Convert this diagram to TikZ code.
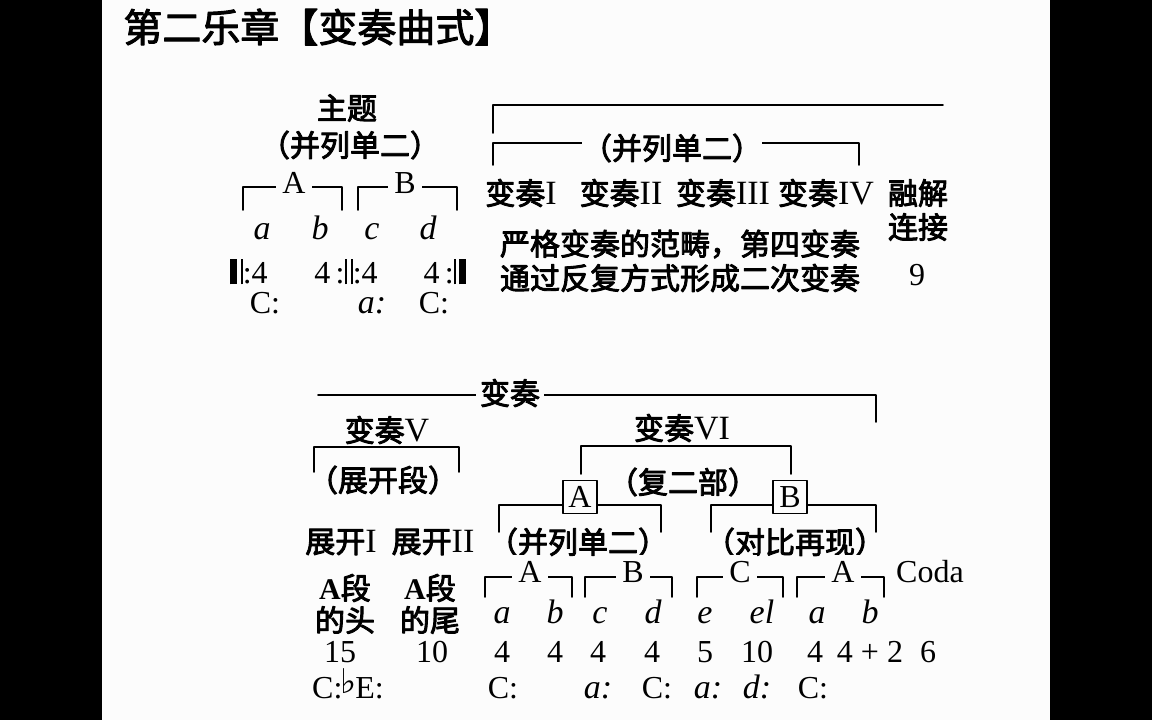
\documentclass[tikz,border=0pt]{standalone}
\usepackage{fontspec}
\setmainfont{Liberation Serif}
\newfontfamily\cjk[FakeBold=3]{Noto Sans CJK SC}
\newfontfamily\cjkh[FakeBold=2.5]{Noto Sans CJK SC}
\newfontfamily\sym{DejaVu Sans}
\usepackage{tikz}
\tikzset{>=latex}
\definecolor{paper}{HTML}{FCFCFC}
\tikzset{
	headline/.style={font=\cjkh\fontsize{19.5pt}{24pt}\selectfont, inner sep=0pt, anchor=west},
	zh/.style={font=\cjk\fontsize{15pt}{18pt}\selectfont, inner sep=0pt},
	lat/.style={font=\fontsize{16pt}{18pt}\selectfont, inner sep=0pt, anchor=base},
	ital/.style={font=\itshape\fontsize{17pt}{19pt}\selectfont, inner sep=0pt, anchor=base},
	cut/.style={fill=paper, inner sep=3pt},
	boxed/.style={draw, fill=paper, line width=0.8pt, minimum width=17pt, minimum height=16.5pt, inner sep=0pt, font=\fontsize{16pt}{18pt}\selectfont},
	brk/.style={line width=0.9pt}
}
\newcommand{\rn}[1]{{\rmfamily\fontsize{17pt}{18pt}\selectfont #1}}
\newcommand{\thickbar}{\rule[-0.04em]{0.22em}{0.8em}}
\newcommand{\thinbar}{\rule[-0.04em]{0.07em}{0.8em}}
\newcommand{\bracket}[4]{\draw[brk] (#1,#4) |- (#2,#3) -- (#2,#4);}

\begin{document}
\begin{tikzpicture}[x=0.5pt,y=-0.5pt,line cap=round,line join=round]
	\useasboundingbox (0,0) rectangle (1152,720);
	\fill[paper] (0,0) rectangle (1152,720);
	\fill[black] (0,0) rectangle (102,720);
	\fill[black] (1050,0) rectangle (1152,720);
	\node[headline] (head) at (123,27) {第二乐章【变奏曲式】};
	% theme
	\node[zh] (theme) at (347,108) {主题};
	\node[zh] (themeform) at (350,145) {（并列单二）};
	\bracket{243}{342}{187}{210}
	\bracket{358}{457}{187}{210}
	\node[lat,cut] (thA) at (294,193) {A};
	\node[lat,cut] (thB) at (405,193) {B};
	\foreach \x/\t/\n in {262/a/ta,320/b/tb,372/c/tc,428/d/td}
	\node[ital] (\n) at (\x,239) {\t};
	\node[lat] (rep1) at (249,283) {\thickbar\hspace{0.1em}\thinbar:4};
	\node[lat] (rep2) at (346,283) {4\,:\thinbar\hspace{0.12em}\thinbar:4};
	\node[lat] (rep3) at (445,283) {4\,:\thinbar\hspace{0.1em}\thickbar};
	\node[lat] (tk1) at (265,313) {C:};
	\node[ital] (tk2) at (372,313) {a:};
	\node[lat] (tk3) at (434,313) {C:};
	% variations I-IV
	\draw[brk] (493,133) -- (493,105) -- (943,105);
	\bracket{493}{859}{143}{165}
	\node[zh,cut,inner sep=0pt] (form1) at (672,148) {（并列单二）};
	\node[zh] (v1) at (521,193) {变奏\rn{I}};
	\node[zh] (v2) at (621,193) {变奏\rn{II}};
	\node[zh] (v3) at (723,193) {变奏\rn{III}};
	\node[zh] (v4) at (826,193) {变奏\rn{IV}};
	\node[zh] (melt) at (918,193) {融解};
	\node[zh] (link) at (918,227) {连接};
	\node[zh] (note1) at (680,244) {严格变奏的范畴，第四变奏};
	\node[zh] (note2) at (680,278) {通过反复方式形成二次变奏};
	\node[lat] (nine) at (917,285) {9};
	% variations V-VI
	\draw[brk] (318,395) -| (876,422);
	\node[zh,cut,inner sep=2pt] (var) at (510,393) {变奏};
	\node[zh] (v5) at (387,430) {变奏\rn{V}};
	\bracket{314}{459}{447}{472}
	\node[zh] (devform) at (383,480) {（展开段）};
	\node[zh] (v6) at (682,428) {变奏\rn{VI}};
	\bracket{581}{791}{446}{474}
	\node[zh] (binform) at (683,482) {（复二部）};
	\bracket{499}{661}{505}{532}
	\bracket{711}{876}{505}{532}
	\node[boxed] (bA) at (580,497) {A};
	\node[boxed] (bB) at (790,497) {B};
	\node[zh] (form2) at (578,542) {（并列单二）};
	\node[zh] (form3) at (795,542) {（对比再现）};
	\node[zh] (dev1) at (341,542) {展开\rn{I}};
	\node[zh] (dev2) at (433,542) {展开\rn{II}};
	\node[zh] (hd1) at (345,588) {{\rmfamily\bfseries A}段};
	\node[zh] (hd2) at (345,620) {的头};
	\node[zh] (tl1) at (430,588) {{\rmfamily\bfseries A}段};
	\node[zh] (tl2) at (430,620) {的尾};
	\bracket{485}{572}{577}{597}
	\bracket{585}{672}{577}{597}
	\bracket{697}{783}{577}{597}
	\bracket{797}{884}{577}{597}
	\node[lat,cut] (sA) at (530,582) {A};
	\node[lat,cut] (sB) at (633,582) {B};
	\node[lat,cut] (sC) at (740,582) {C};
	\node[lat,cut] (sA2) at (843,582) {A};
	\node[lat] (coda) at (930,582) {Coda};
	\foreach \x/\t/\n in {502/a/la,555/b/lb,600/c/lc,653/d/ld,705/e/le,762/el/lel,817/a/la2,870/b/lb2}
	\node[ital] (\n) at (\x,623) {\t};
	\foreach \x/\t/\n in {340/15/n1,432/10/n2,502/4/n3,555/4/n4,598/4/n5,652/4/n6,705/5/n7,757/10/n8,815/4/n9,870/4 + 2/n10,928/6/n11}
	\node[lat] (\n) at (\x,662) {\t};
	\node[lat] (k1) at (348,698) {C:\hspace{-0.05em}\raisebox{2.5pt}{\sym\bfseries\fontsize{17pt}{17pt}\selectfont ♭}\hspace{-0.05em}E:};
	\node[lat] (k2) at (503,698) {C:};
	\node[ital] (k3) at (598,698) {a:};
	\node[lat] (k4) at (657,698) {C:};
	\node[ital] (k5) at (708,698) {a:};
	\node[ital] (k6) at (757,698) {d:};
	\node[lat] (k7) at (813,698) {C:};
\end{tikzpicture}
\end{document}
